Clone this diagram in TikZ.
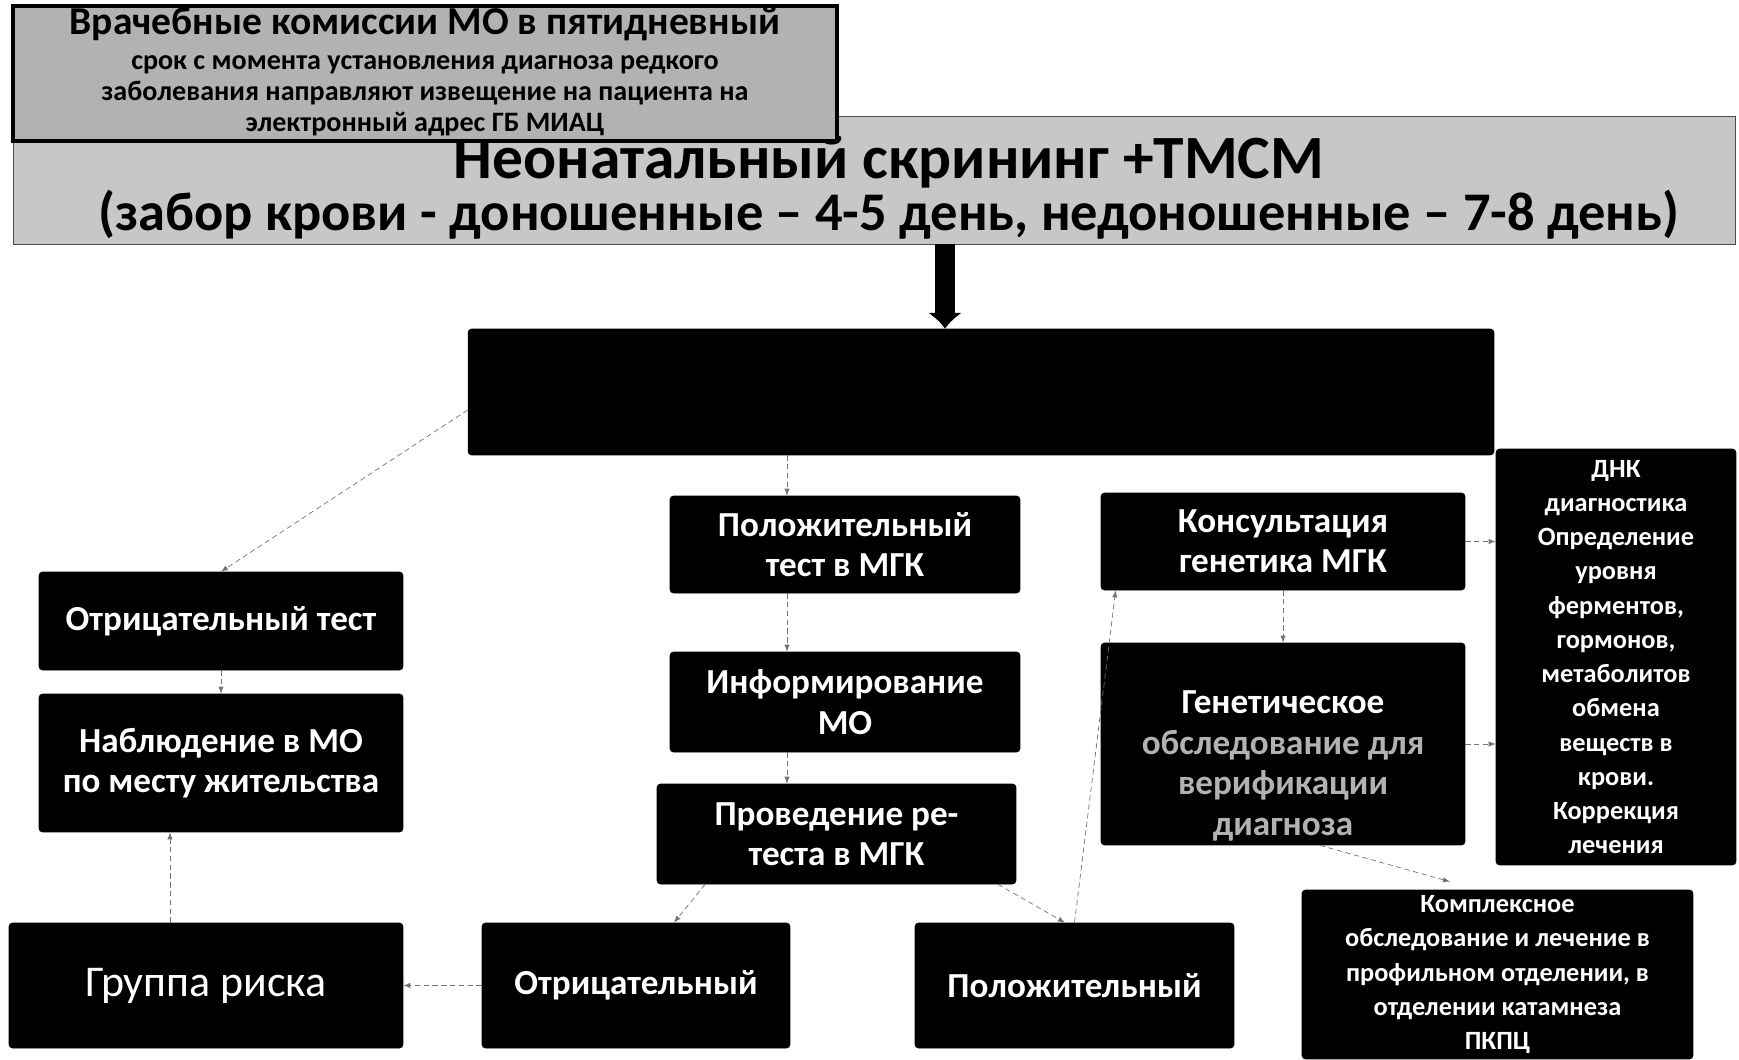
\documentclass[tikz,border=0pt]{standalone}
\usepackage{fontspec}
\setmainfont{Carlito}
\usepackage{tikz}
\usetikzlibrary{shapes,arrows,arrows.meta,positioning,calc}

\begin{document}
\begin{tikzpicture}[x=0.02cm, y=-0.02cm,
        box/.style={rectangle, fill=black, draw=black, rounded corners=2pt, text=white, align=center, inner sep=1pt, font=\bfseries\fontsize{20}{23}\selectfont},
        smallbox/.style={box, font=\bfseries\fontsize{15}{19.5}\selectfont},
        band/.style={rectangle, fill=black!22, draw=black!70, thin, inner sep=0pt},
        note/.style={rectangle, fill=black!30, draw=black, line width=2.5pt, inner sep=0pt},
        arrow/.style={->, >=latex, thin, densely dashed, black!55},
        bigarrow/.style={-{Latex[length=9pt,width=20pt]}, line width=11pt}]

    \useasboundingbox (0,0) rectangle (1739,1059);

    % header
    \node[band, minimum width=34.46cm, minimum height=2.56cm] (TITLE) at (874.5,180) {};
    \node[font=\bfseries\fontsize{35}{35}\selectfont] (TMAIN) at (889,162) {Неонатальный скрининг +ТМСМ};
    \node[font=\bfseries\fontsize{31}{31}\selectfont] (TSUB) at (889,215) {(забор крови - доношенные -- 4-5 день, недоношенные -- 7-8 день)};
    \node[note, minimum width=16.48cm, minimum height=2.7cm] (VK) at (425,73.5) {};
    \node[font=\bfseries\fontsize{22.5}{22.5}\selectfont] (VKHEAD) at (425,24) {Врачебные комиссии МО в пятидневный};
    \node[align=center, inner sep=0pt, font=\bfseries\fontsize{16}{17.6}\selectfont] (VKBODY) at (425,96)
        {срок с момента установления диагноза редкого\\
         заболевания направляют извещение на пациента на\\
         электронный адрес ГБ МИАЦ};

    \node[box, minimum width=20.52cm, minimum height=2.52cm] (SCREEN) at (981,392) {};

    % MGK chain
    \node[box, minimum width=7cm, minimum height=1.94cm] (POS) at (845,544.5) {Положительный\\тест в МГК};
    \node[box, minimum width=7cm, minimum height=2cm] (INFO) at (845,702) {Информирование\\МО};
    \node[box, minimum width=7.18cm, minimum height=2cm] (RETEST) at (836.5,834) {Проведение ре-\\теста в МГК};

    % genetics
    \node[box, minimum width=7.28cm, minimum height=1.94cm] (CONS) at (1283,541.5) {Консультация\\генетика МГК};
    \node[box, minimum width=7.28cm, minimum height=4.04cm] (GEN) at (1283,744)
        {\rule{0pt}{38pt}Генетическое\\{\color{white!70!black}обследование для}\\{\color{white!70!black}верификации}\\{\color{white!70!black}диагноза}};
    \node[smallbox, minimum width=4.8cm, minimum height=8.32cm] (DNA) at (1616,657)
        {ДНК\\диагностика\\Определение\\уровня\\ферментов,\\гормонов,\\метаболитов\\обмена\\веществ в\\крови.\\Коррекция\\лечения};
    \node[smallbox, minimum width=7.82cm, minimum height=3.38cm] (COMPLEX) at (1497.5,974.5)
        {Комплексное\\обследование и лечение в\\профильном отделении, в\\отделении катамнеза\\ПКПЦ};

    % left column
    \node[box, minimum width=7.28cm, minimum height=1.96cm] (NEGTEST) at (221,621) {Отрицательный тест};
    \node[box, minimum width=7.28cm, minimum height=2.76cm] (OBS) at (221,763) {Наблюдение в МО\\по месту жительства};
    \node[box, minimum width=7.88cm, minimum height=2.5cm, font=\fontsize{25}{28}\selectfont] (RISK) at (206,985.5) {Группа риска};
    \node[box, minimum width=6.16cm, minimum height=2.5cm] (NEG) at (636,985.5) {Отрицательный};
    \node[box, minimum width=6.38cm, minimum height=2.5cm] (POSV) at (1074.5,985.5) {Положительный};

    \coordinate (c1) at (787,0);
    \coordinate (c2) at (945,0);
    \coordinate (c3) at (170,0);

    \draw[bigarrow] (TITLE.south -| c2) -- (SCREEN.north -| c2);
    \draw[arrow] ([yshift=-0.36cm]SCREEN.west) -- (NEGTEST.north);
    \draw[arrow] (SCREEN.south -| c1) -- (POS.north -| c1);
    \draw[arrow] (POS.south -| c1) -- (INFO.north -| c1);
    \draw[arrow] (INFO.south -| c1) -- (RETEST.north -| c1);
    \draw[arrow] ([xshift=-2.63cm]RETEST.south) -- ([xshift=0.76cm]NEG.north);
    \draw[arrow] ([xshift=3.23cm]RETEST.south) -- ([xshift=-0.19cm]POSV.north);
    \draw[arrow] (POSV.north) -- ([xshift=0.3cm]CONS.south west);
    \draw[arrow] (CONS.south) -- (GEN.north);
    \draw[arrow] (CONS.east) -- (CONS.east -| DNA.west);
    \draw[arrow] (GEN.east) -- (GEN.east -| DNA.west);
    \draw[arrow] ([xshift=0.74cm]GEN.south) -- ([xshift=-0.95cm,yshift=0.16cm]COMPLEX.north);
    \draw[arrow] (NEG.west) -- (RISK.east);
    \draw[arrow] (RISK.north -| c3) -- (OBS.south -| c3);
    \draw[arrow] (NEGTEST.south) -- (OBS.north);

\end{tikzpicture}
\end{document}
